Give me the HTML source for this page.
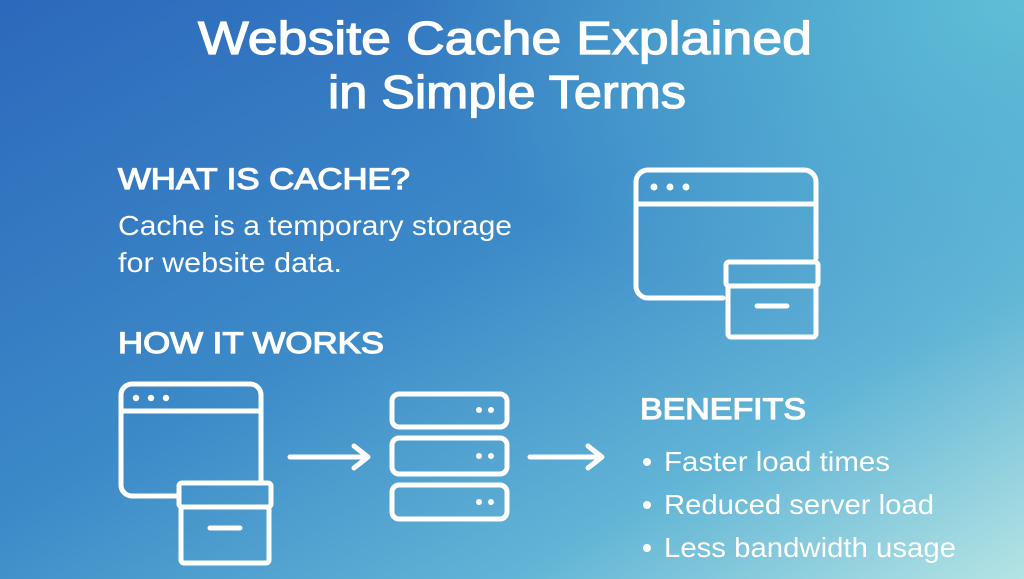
<!DOCTYPE html>
<html><head><meta charset="utf-8"><style>
html,body{margin:0;padding:0;width:1024px;height:579px;overflow:hidden}
svg{display:block}
text{font-family:"Liberation Sans",sans-serif;fill:#fff}
.m{stroke:#fff;stroke-width:1.2;font-weight:normal}
</style></head><body>
<svg width="1024" height="579" viewBox="0 0 1024 579" xmlns="http://www.w3.org/2000/svg">
<defs>
<linearGradient id="bg" x1="0" y1="0" x2="1" y2="1" gradientUnits="objectBoundingBox">
<stop offset="0" stop-color="#2c68bb"/>
<stop offset="0.45" stop-color="#3c8ac8"/>
<stop offset="0.75" stop-color="#62b5d6"/>
<stop offset="1" stop-color="#b4e4e4"/>
</linearGradient>
<radialGradient id="tr" cx="1" cy="0" r="0.6">
<stop offset="0" stop-color="#62c4d8" stop-opacity="0.9"/>
<stop offset="1" stop-color="#62c4d8" stop-opacity="0"/>
</radialGradient>
</defs>
<rect width="1024" height="579" fill="url(#bg)"/>
<rect width="1024" height="579" fill="url(#tr)"/>

<text class="m" x="505" y="54" text-anchor="middle" font-size="46" textLength="614" lengthAdjust="spacingAndGlyphs">Website Cache Explained</text>
<text class="m" x="507" y="108" text-anchor="middle" font-size="46" textLength="358" lengthAdjust="spacingAndGlyphs">in Simple Terms</text>

<text class="m" x="118" y="189" font-size="30" textLength="292" lengthAdjust="spacingAndGlyphs">WHAT IS CACHE?</text>
<text x="118" y="235" font-size="28" textLength="394" lengthAdjust="spacingAndGlyphs">Cache is a temporary storage</text>
<text x="118" y="272" font-size="28" textLength="224" lengthAdjust="spacingAndGlyphs">for website data.</text>
<text class="m" x="118" y="353" font-size="30" textLength="266" lengthAdjust="spacingAndGlyphs">HOW IT WORKS</text>

<g fill="none" stroke="#fff" stroke-width="5" stroke-linecap="round" stroke-linejoin="round">
<path d="M723 298 H648 a12 12 0 0 1 -12 -12 V182 a12 12 0 0 1 12 -12 H804 a12 12 0 0 1 12 12 V258"/>
<line x1="636" y1="204" x2="816" y2="204"/>
<rect x="726" y="262" width="92" height="24" rx="3"/>
<rect x="728" y="286" width="88" height="51" rx="3"/>
<line x1="757" y1="306" x2="787" y2="306"/>
<path d="M178 496 H132 a11 11 0 0 1 -11 -11 V395 a11 11 0 0 1 11 -11 H250 a11 11 0 0 1 11 11 V481"/>
<line x1="121" y1="411" x2="261" y2="411"/>
<rect x="179" y="483" width="92" height="24" rx="3"/>
<rect x="181" y="507" width="88" height="56" rx="3"/>
<line x1="210" y1="528" x2="240" y2="528"/>
<line x1="290" y1="457" x2="366" y2="457"/>
<path d="M354 446 L368 457 L354 468"/>
<line x1="530" y1="457" x2="600" y2="457"/>
<path d="M588 446 L602 457 L588 468"/>
<rect x="392" y="394" width="115" height="33" rx="7"/>
<rect x="392" y="438" width="115" height="36" rx="7"/>
<rect x="392" y="485" width="115" height="34" rx="7"/>
</g>
<g fill="#fff">
<circle cx="654" cy="187" r="3.5"/><circle cx="670" cy="187" r="3.5"/><circle cx="686" cy="187" r="3.5"/>
<circle cx="136" cy="398" r="3.2"/><circle cx="151" cy="398" r="3.2"/><circle cx="166" cy="398" r="3.2"/>
<circle cx="479" cy="410" r="3"/><circle cx="491" cy="410" r="3"/>
<circle cx="479" cy="456" r="3"/><circle cx="491" cy="456" r="3"/>
<circle cx="479" cy="502" r="3"/><circle cx="491" cy="502" r="3"/>
<circle cx="647" cy="462" r="4"/><circle cx="647" cy="505" r="4"/><circle cx="647" cy="548" r="4"/>
</g>

<text class="m" x="640" y="419" font-size="30" textLength="166" lengthAdjust="spacingAndGlyphs">BENEFITS</text>
<text x="664" y="471" font-size="28" textLength="226" lengthAdjust="spacingAndGlyphs">Faster load times</text>
<text x="664" y="514" font-size="28" textLength="270" lengthAdjust="spacingAndGlyphs">Reduced server load</text>
<text x="664" y="557" font-size="28" textLength="292" lengthAdjust="spacingAndGlyphs">Less bandwidth usage</text>
</svg>
</body></html>
